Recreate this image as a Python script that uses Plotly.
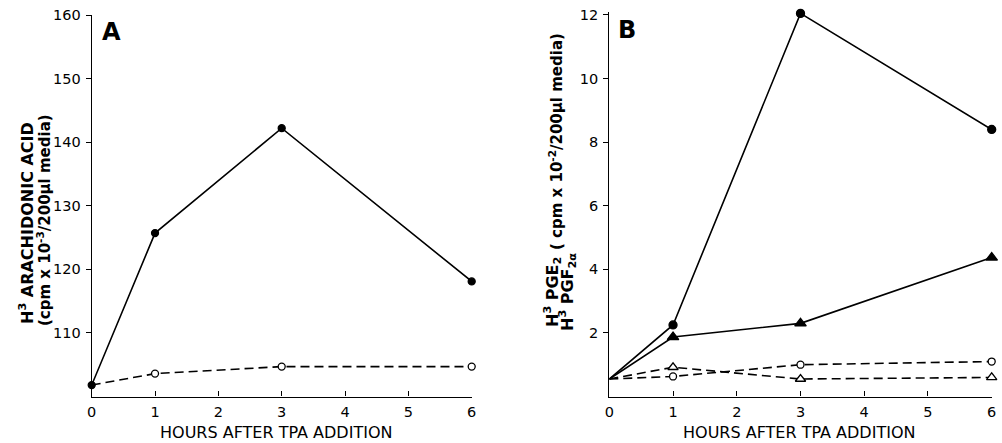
import plotly.graph_objects as go

# ---- data ----
hours = [0, 1, 3, 6]
x_ticks = [0, 1, 2, 3, 4, 5, 6]

# Panel A: H3 arachidonic acid (cpm x 10^-3 / 200 ul media)
aa_tpa = [101.8, 125.7, 142.2, 118.1]
aa_control = [101.8, 103.6, 104.7, 104.7]
a_yticks = [110, 120, 130, 140, 150, 160]

# Panel B: H3 PGE2 / H3 PGF2a (cpm x 10^-2 / 200 ul media)
pge2_tpa = [0.55, 2.25, 12.05, 8.4]
pgf2a_tpa = [0.55, 1.87, 2.3, 4.37]
pge2_control = [0.55, 0.63, 1.0, 1.1]
pgf2a_control = [0.55, 0.92, 0.55, 0.6]
b_yticks = [2, 4, 6, 8, 10, 12]

FONT = "DejaVu Sans"
BLACK = "#000000"

fig = go.Figure()

def line(x, y, xa, ya, dash, symbol, filled, size, show0=True):
    sizes = [size] * len(x)
    if not show0:
        sizes[0] = 0
    fig.add_trace(go.Scatter(
        x=x, y=y, xaxis=xa, yaxis=ya, mode="lines+markers",
        line=dict(color=BLACK, width=1.6, dash=dash),
        marker=dict(symbol=symbol, size=sizes, opacity=1,
                    color=BLACK if filled else "white",
                    line=dict(color=BLACK, width=1.3)),
        cliponaxis=False, showlegend=False, hoverinfo="x+y"))

DASH = "9px,5px"
# Panel A
line(hours, aa_control, "x", "y", DASH, "circle", False, 7, show0=False)
line(hours, aa_tpa, "x", "y", "solid", "circle", True, 7)
# Panel B
line(hours, pge2_control, "x2", "y2", DASH, "circle", False, 7, show0=False)
line(hours, pgf2a_control, "x2", "y2", DASH, "triangle-up", False, 9, show0=False)
line(hours, pgf2a_tpa, "x2", "y2", "solid", "triangle-up", True, 10, show0=False)
line(hours, pge2_tpa, "x2", "y2", "solid", "circle", True, 8, show0=False)

W, H = 1002, 443
def px(v):
    return v / W
def py(v):
    return 1 - v / H

tickfont = dict(family=FONT, size=14.5, color=BLACK)
xcommon = dict(range=[0, 6], tickvals=x_ticks, ticks="inside", ticklen=5,
               tickwidth=1.2, tickcolor=BLACK, showline=True, linecolor=BLACK,
               linewidth=1.3, showgrid=False, zeroline=False, tickfont=tickfont,
               ticklabelstandoff=2, automargin=False)
ycommon = dict(ticks="outside", ticklen=5, tickwidth=1.2, tickcolor=BLACK,
               showline=True, linecolor=BLACK, linewidth=1.3, showgrid=False,
               zeroline=False, tickfont=tickfont, ticklabelstandoff=2,
               automargin=False)

# Panel B range gets a hair of headroom so the peak marker is not hidden;
# the domain top is raised by the same amount so "12" stays at the same pixel.
B_TOP = 12.08
b_px_per_unit = (396.5 - 15) / 12.0
ydomA = [py(396.5), py(15)]
ydomB = [py(396.5), py(15 - (B_TOP - 12) * b_px_per_unit)]
fig.update_layout(
    width=W, height=H, margin=dict(l=0, r=0, t=0, b=0, pad=0, autoexpand=False),
    paper_bgcolor="white", plot_bgcolor="white",
    xaxis=dict(domain=[px(91.7), px(471.7)], anchor="y", **xcommon),
    yaxis=dict(domain=ydomA, anchor="x", range=[100, 160], tickvals=a_yticks, **ycommon),
    xaxis2=dict(domain=[px(609.3), px(991.7)], anchor="y2", **xcommon),
    yaxis2=dict(domain=ydomB, anchor="x2", range=[0, B_TOP], tickvals=b_yticks, **ycommon),
)

ann = []
def text(x, y, s, size=13, angle=0, bold=False):
    ann.append(dict(x=px(x), y=py(y), xref="paper", yref="paper", text=s,
                    showarrow=False, textangle=angle,
                    xanchor="center", yanchor="middle",
                    font=dict(family=FONT, size=size, color=BLACK,
                              weight="bold" if bold else "normal")))

# panel letters
text(111, 32, "A", size=24, bold=True)
text(627, 30, "B", size=24, bold=True)
# x titles
text(276, 432, "HOURS AFTER TPA ADDITION", size=16)
text(799, 432, "HOURS AFTER TPA ADDITION", size=16)
# y title A (two lines)
text(27, 223, "H<sup>3</sup> ARACHIDONIC ACID", size=16, angle=-90, bold=True)
text(44, 220, "(cpm x 10<sup>-3</sup>/200µl media)", size=15, angle=-90, bold=True)
# y title B
text(552, 292, "H<sup>3</sup> PGE<sub>2</sub>", size=16, angle=-90, bold=True)
text(567, 292, "H<sup>3</sup> PGF<sub>2α</sub>", size=16, angle=-90, bold=True)
text(556, 142, "( cpm x 10<sup>-2</sup>/200µl media)", size=15, angle=-90, bold=True)

fig.update_layout(annotations=ann)
fig.write_html("out.html", config={"displayModeBar": False},
               post_script="document.body.style.margin='0';document.body.style.padding='0';")
